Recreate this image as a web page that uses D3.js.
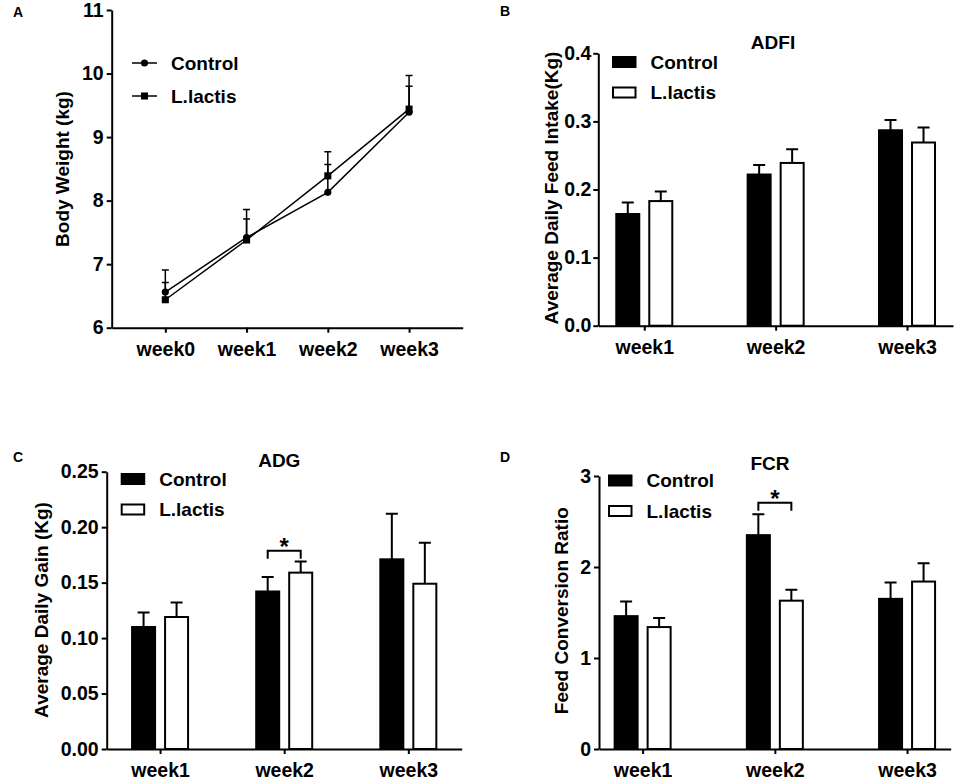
<!DOCTYPE html>
<html lang="en">
<head>
<meta charset="UTF-8">
<title>Growth performance</title>
<style>
  body { margin: 0; background: #fff; }
  svg { font-family: "Liberation Sans", Arial, Helvetica, sans-serif; font-weight: bold; }
  .axis path, .axis line { stroke: #000; stroke-width: 2px; }
  .axis text { font-size: 19.5px; font-weight: bold; fill: #000; }
  .lbl { font-size: 19px; fill: #000; }
  .star { font-size: 24px; fill: #000; }
  .panel { font-size: 14px; fill: #000; }
</style>
</head>
<body>
<script src="https://d3js.org/d3.v7.min.js"></script>
<script>
// ---- data ----
const groups = ['Control', 'L.lactis']

const bwWeeks = ['week0', 'week1', 'week2', 'week3']
const bwControl = [6.56, 7.42, 8.13, 9.39]
const bwControlSd = [0.35, 0.44, 0.44, 0.58]
const bwLactis = [6.44, 7.38, 8.39, 9.44]
const bwLactisSd = [0.27, 0.33, 0.38, 0.36]
const bwTicks = [6, 7, 8, 9, 10, 11]

const weeks = ['week1', 'week2', 'week3']

const adfiControl = [0.164, 0.222, 0.287]
const adfiControlSd = [0.017, 0.014, 0.015]
const adfiLactis = [0.183, 0.239, 0.269]
const adfiLactisSd = [0.014, 0.020, 0.022]
const adfiTicks = [0, 0.1, 0.2, 0.3, 0.4]

const adgControl = [0.110, 0.142, 0.171]
const adgControlSd = [0.013, 0.013, 0.041]
const adgLactis = [0.119, 0.159, 0.149]
const adgLactisSd = [0.013, 0.010, 0.037]
const adgTicks = [0, 0.05, 0.10, 0.15, 0.20, 0.25]

const fcrControl = [1.46, 2.35, 1.65]
const fcrControlSd = [0.16, 0.23, 0.18]
const fcrLactis = [1.34, 1.63, 1.84]
const fcrLactisSd = [0.10, 0.12, 0.20]
const fcrTicks = [0, 1, 2, 3]

const W = 957, H = 780
const svg = d3.select('body').append('svg')
  .attr('width', W)
  .attr('height', H)

function axes (g, x, y, ticks, fmt, yPad) {
  g.append('g')
    .attr('class', 'axis')
    .attr('transform', `translate(0,${y.range()[0]})`)
    .call(d3.axisBottom(x).tickSize(5).tickSizeOuter(0).tickPadding(9))
  g.append('g')
    .attr('class', 'axis')
    .attr('transform', `translate(${x.range()[0]},0)`)
    .call(d3.axisLeft(y).tickValues(ticks).tickFormat(d3.format(fmt))
      .tickSize(5).tickSizeOuter(0).tickPadding(yPad))
}

function yLabel (g, text, cx, cy) {
  g.append('text')
    .attr('class', 'lbl')
    .attr('transform', `translate(${cx},${cy}) rotate(-90)`)
    .attr('text-anchor', 'middle')
    .attr('dy', '0.35em')
    .text(text)
}

function plainText (g, cls, text, x, y, anchor) {
  g.append('text')
    .attr('class', cls)
    .attr('x', x)
    .attr('y', y)
    .attr('dy', '0.35em')
    .attr('text-anchor', anchor || 'middle')
    .text(text)
}

// ---- panel A: body weight lines ----
;(function () {
  const g = svg.append('g')
  const x = d3.scalePoint().domain(bwWeeks).range([111.7, 462.7]).padding(0.66)
  const y = d3.scaleLinear().domain([6, 11]).range([327.7, 10])
  axes(g, x, y, bwTicks, 'd', 3)

  const series = [
    { name: groups[0], vals: bwControl, sd: bwControlSd, shape: 'circle' },
    { name: groups[1], vals: bwLactis, sd: bwLactisSd, shape: 'square' }
  ]
  series.forEach(s => {
    const pts = bwWeeks.map((w, i) => ({ w, v: s.vals[i], sd: s.sd[i] }))
    // error bars (upper only)
    g.selectAll(null).data(pts).enter().append('path')
      .attr('d', d => `M${x(d.w)},${y(d.v)}V${y(d.v + d.sd)}M${x(d.w) - 3.5},${y(d.v + d.sd)}h7`)
      .attr('stroke', '#000').attr('stroke-width', 1.5).attr('fill', 'none')
    g.append('path')
      .attr('d', d3.line().x(d => x(d.w)).y(d => y(d.v))(pts))
      .attr('stroke', '#000').attr('stroke-width', 1.5).attr('fill', 'none')
    const sym = d3.symbol().type(s.shape === 'circle' ? d3.symbolCircle : d3.symbolSquare)
      .size(s.shape === 'circle' ? 40 : 50)
    g.selectAll(null).data(pts).enter().append('path')
      .attr('d', sym)
      .attr('transform', d => `translate(${x(d.w)},${y(d.v)})`)
      .attr('fill', '#000')
  })

  // legend
  series.forEach((s, i) => {
    const ly = 63 + i * 33
    g.append('line').attr('x1', 132).attr('x2', 157).attr('y1', ly).attr('y2', ly)
      .attr('stroke', '#000').attr('stroke-width', 1.5)
    const sym = d3.symbol().type(s.shape === 'circle' ? d3.symbolCircle : d3.symbolSquare)
      .size(s.shape === 'circle' ? 40 : 50)
    g.append('path').attr('d', sym).attr('transform', `translate(144.5,${ly})`).attr('fill', '#000')
    plainText(g, 'lbl', s.name, 171, ly, 'start')
  })

  yLabel(g, 'Body Weight (kg)', 62, 169)
  plainText(g, 'panel', 'A', 18, 12)
})()

// ---- bar panels B, C, D ----
const barPanels = [
  { letter: 'B', lp: [505, 11], title: 'ADFI', tp: [773, 42],
    ylab: 'Average Daily Feed Intake(Kg)', yl: [551.7, 188],
    xr: [598.3, 953], pad: 0.35, yr: [325.7, 53.3], dom: [0, 0.4],
    ticks: adfiTicks, fmt: '.1f', yPad: 2,
    ctrl: adfiControl, ctrlSd: adfiControlSd, lac: adfiLactis, lacSd: adfiLactisSd,
    leg: [612, 62], sig: null },
  { letter: 'C', lp: [18, 457], title: 'ADG', tp: [279.3, 460],
    ylab: 'Average Daily Gain (Kg)', yl: [41.7, 610],
    xr: [106.7, 461.7], pad: 0.43, yr: [749, 471.7], dom: [0, 0.25],
    ticks: adgTicks, fmt: '.2f', yPad: 3,
    ctrl: adgControl, ctrlSd: adgControlSd, lac: adgLactis, lacSd: adgLactisSd,
    leg: [120.7, 479], sig: { week: 'week2', y: 550.7 } },
  { letter: 'D', lp: [505, 457], title: 'FCR', tp: [770, 463],
    ylab: 'Feed Conversion Ratio', yl: [561.7, 610.7],
    xr: [599, 950.7], pad: 0.33, yr: [749, 476], dom: [0, 3],
    ticks: fcrTicks, fmt: 'd', yPad: 3,
    ctrl: fcrControl, ctrlSd: fcrControlSd, lac: fcrLactis, lacSd: fcrLactisSd,
    leg: [608, 480.5], sig: { week: 'week2', y: 502.7 } }
]

const barW = 25
const offsets = [-16.5, 16.5]

barPanels.forEach(p => {
  const g = svg.append('g')
  const x = d3.scalePoint().domain(weeks).range(p.xr).padding(p.pad)
  const y = d3.scaleLinear().domain(p.dom).range(p.yr)

  const sets = [
    { name: groups[0], vals: p.ctrl, sd: p.ctrlSd, fill: '#000' },
    { name: groups[1], vals: p.lac, sd: p.lacSd, fill: '#fff' }
  ]
  sets.forEach((s, k) => {
    const rows = weeks.map((w, i) => ({ w, v: s.vals[i], sd: s.sd[i] }))
    const cx = d => x(d.w) + offsets[k]
    g.selectAll(null).data(rows).enter().append('path')
      .attr('d', d => `M${cx(d)},${y(d.v)}V${y(d.v + d.sd)}M${cx(d) - 6},${y(d.v + d.sd)}h12`)
      .attr('stroke', '#000').attr('stroke-width', 2).attr('fill', 'none')
    g.selectAll(null).data(rows).enter().append('rect')
      .attr('x', d => cx(d) - barW / 2 + 1)
      .attr('width', barW - 2)
      .attr('y', d => y(d.v))
      .attr('height', d => y(0) - y(d.v))
      .attr('fill', s.fill)
      .attr('stroke', '#000').attr('stroke-width', 2)
  })

  axes(g, x, y, p.ticks, p.fmt, p.yPad)

  // legend
  sets.forEach((s, k) => {
    const ly = p.leg[1] + k * 30.5
    g.append('rect')
      .attr('x', p.leg[0] + 1).attr('y', ly - 5)
      .attr('width', 22.5).attr('height', 10)
      .attr('fill', s.fill).attr('stroke', '#000').attr('stroke-width', 2)
    plainText(g, 'lbl', s.name, p.leg[0] + 38.5, ly, 'start')
  })

  if (p.sig) {
    const x1 = x(p.sig.week) + offsets[0]
    const x2 = x(p.sig.week) + offsets[1]
    g.append('path')
      .attr('d', `M${x1},${p.sig.y + 8}V${p.sig.y}H${x2}V${p.sig.y + 8}`)
      .attr('stroke', '#000').attr('stroke-width', 2).attr('fill', 'none')
    plainText(g, 'star', '*', (x1 + x2) / 2, p.sig.y - 4)
  }

  plainText(g, 'lbl', p.title, p.tp[0], p.tp[1])
  yLabel(g, p.ylab, p.yl[0], p.yl[1])
  plainText(g, 'panel', p.letter, p.lp[0], p.lp[1])
})
</script>
</body>
</html>
